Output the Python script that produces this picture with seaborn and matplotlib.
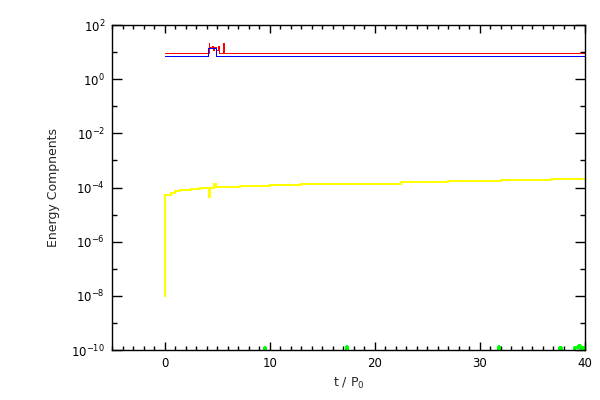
import numpy as np
import pandas as pd
import seaborn as sns
import matplotlib
matplotlib.use("Agg")
import matplotlib.pyplot as plt
from matplotlib.ticker import FixedLocator, MultipleLocator, LogFormatterMathtext, NullFormatter

# valores
t_yellow = [0.0, 0.08, 0.3, 0.6, 1.0, 1.5, 2.5, 3.4, 4.25, 4.35, 4.75, 4.9, 5.3, 7.2, 10.0,
            13.0, 16.8, 22.5, 27.0, 32.0, 36.8, 40.0]
e_yellow = [1.0e-8, 5.2e-5, 5.5e-5, 6.3e-5, 7.4e-5, 8.1e-5, 8.8e-5, 1.0e-4, 4.5e-5, 1.0e-4,
            1.3e-4, 1.05e-4, 1.05e-4, 1.1e-4, 1.2e-4, 1.3e-4, 1.4e-4, 1.6e-4, 1.7e-4,
            1.85e-4, 2.0e-4, 2.0e-4]

t_red = [0.0, 4.2, 4.25, 4.5, 4.6, 4.75, 4.9, 5.05, 5.15, 5.6, 5.67, 40.0]
e_red = [8.9, 21.0, 15.0, 17.0, 12.0, 16.0, 12.0, 17.0, 8.9, 21.0, 8.9, 8.9]

t_blue = [0.0, 4.12, 4.86, 40.0]
e_blue = [7.3, 14.0, 7.3, 7.3]

t_green = [0.0, 9.45, 9.55, 17.25, 17.35, 31.75, 31.85, 37.5, 37.7, 39.0, 39.3, 39.5, 39.7, 40.0]
e_green = [1e-12, 1.3e-10, 1e-12, 1.4e-10, 1e-12, 1.4e-10, 1e-12, 1.3e-10, 1e-12,
           1.3e-10, 1.5e-10, 1e-12, 1.3e-10, 1e-12]

sns.set_style("ticks")
plt.rcParams['font.family'] = ['DejaVu Sans']

fig = plt.figure(figsize=(6, 4), dpi=100)
ax = fig.add_axes([0.1867, 0.125, 0.7883, 0.8125])

series = [(t_yellow, e_yellow, "#FFFF00", 1.1), (t_red, e_red, "#FF0000", 0.72),
          (t_blue, e_blue, "#0000FF", 0.72), (t_green, e_green, "#00FF00", 1.0)]
for tt, ee, c, w in series:
    df = pd.DataFrame({"t": tt, "e": ee})
    sns.lineplot(x="t", y="e", data=df, color=c, lw=w, drawstyle="steps-post",
                 estimator=None, sort=False, antialiased=False, ax=ax)

ax.set_yscale("log")
ax.set_xlim(-5, 40)
ax.set_ylim(1e-10, 1e2)

ax.yaxis.set_major_locator(FixedLocator([10.0**k for k in range(-10, 3, 2)]))
ax.yaxis.set_minor_locator(FixedLocator([10.0**k for k in range(-9, 2, 2)]))
ax.yaxis.set_major_formatter(LogFormatterMathtext())
ax.yaxis.set_minor_formatter(NullFormatter())
ax.xaxis.set_major_locator(MultipleLocator(10))
ax.xaxis.set_minor_locator(MultipleLocator(1))

ax.tick_params(which="both", direction="in", top=True, right=True, colors="black",
               labelsize=8.5, width=1)
ax.tick_params(axis="y", which="major", length=7, pad=5)
ax.tick_params(axis="y", which="minor", length=3.6)
ax.tick_params(axis="x", which="major", length=5.5, pad=5)
ax.tick_params(axis="x", which="minor", length=3)
for s in ax.spines.values():
    s.set_color("black")
    s.set_linewidth(1)

ax.set_xlabel("t / P$_0$", fontsize=9)
ax.set_ylabel("Energy Compnents", fontsize=9, labelpad=8)

fig.savefig("out.png", dpi=100)
